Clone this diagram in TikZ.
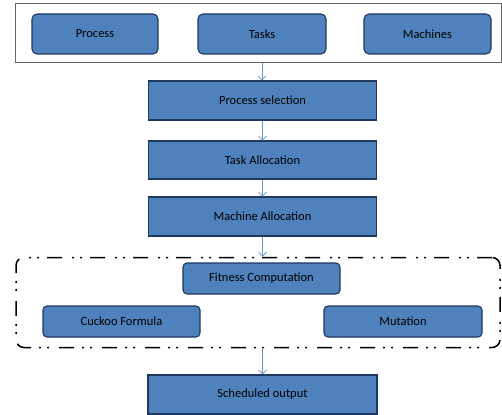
\documentclass[tikz,border=0pt]{standalone}
\usepackage{fontspec}
\setmainfont{Carlito}
\usetikzlibrary{arrows.meta}
\definecolor{boxfill}{HTML}{4F81BD}
\definecolor{boxline}{HTML}{1F3860}
\definecolor{arrowc}{HTML}{6A95C8}
\tikzset{
  rbox/.style={draw=boxline, fill=boxfill, line width=1.1pt, rounded corners=5pt, font=\fontsize{12.5}{14}\selectfont},
  fbox/.style={draw=boxline, fill=boxfill, line width=1.1pt, font=\fontsize{12.5}{14}\selectfont},
  flow/.style={draw=arrowc, line width=0.8pt, -{Straight Barb[length=4pt,width=8pt]}},
}
\begin{document}
\begin{tikzpicture}[x=1pt,y=-1pt]
\useasboundingbox (0,0) rectangle (502,414);
% top outer box
\node[draw=black!60, line width=0.8pt, minimum width=486pt, minimum height=59pt, inner sep=0pt] (top) at (258,33) {};
\node[rbox, minimum width=126pt, minimum height=40pt] (proc) at (95,34) {Process};
\node[rbox, minimum width=128pt, minimum height=40pt] (tasks) at (262,34) {Tasks};
\node[rbox, minimum width=127pt, minimum height=40pt] (mach) at (427.5,34) {Machines};
% flow
\node[fbox, minimum width=228pt, minimum height=39pt] (psel) at (262.5,100.5) {Process selection};
\node[fbox, minimum width=228pt, minimum height=38pt] (talloc) at (262.5,160) {Task Allocation};
\node[fbox, minimum width=228pt, minimum height=39pt] (malloc) at (262.5,216.5) {Machine Allocation};
% dash-dot box
\node[draw=black, line width=1.5pt, rounded corners=8pt, dash pattern=on 15pt off 8pt on 2pt off 6pt on 2pt off 10pt, minimum width=484pt, minimum height=90pt, inner sep=0pt] (grp) at (258,302.5) {};
\node[rbox, rounded corners=4pt, minimum width=157pt, minimum height=31pt] (fit) at (261.5,278.5) {Fitness Computation};
\node[rbox, rounded corners=4pt, minimum width=157pt, minimum height=31pt] (cuck) at (121.5,321.5) {Cuckoo Formula};
\node[rbox, rounded corners=4pt, minimum width=158pt, minimum height=31pt] (mut) at (403,321.5) {Mutation};
\node[fbox, minimum width=229pt, minimum height=39pt] (sched) at (262.5,394.5) {Scheduled output};
% connectors
\draw[flow] (top.south -| tasks.south) coordinate (t0) -- (t0 |- psel.north);
\draw[flow] (psel.south) -- (talloc.north);
\draw[flow] (talloc.south) -- (malloc.north);
\draw[flow] (malloc.south) -- (malloc.south |- grp.north);
\draw[flow] (grp.south -| sched.north) -- (sched.north);
\end{tikzpicture}
\end{document}
